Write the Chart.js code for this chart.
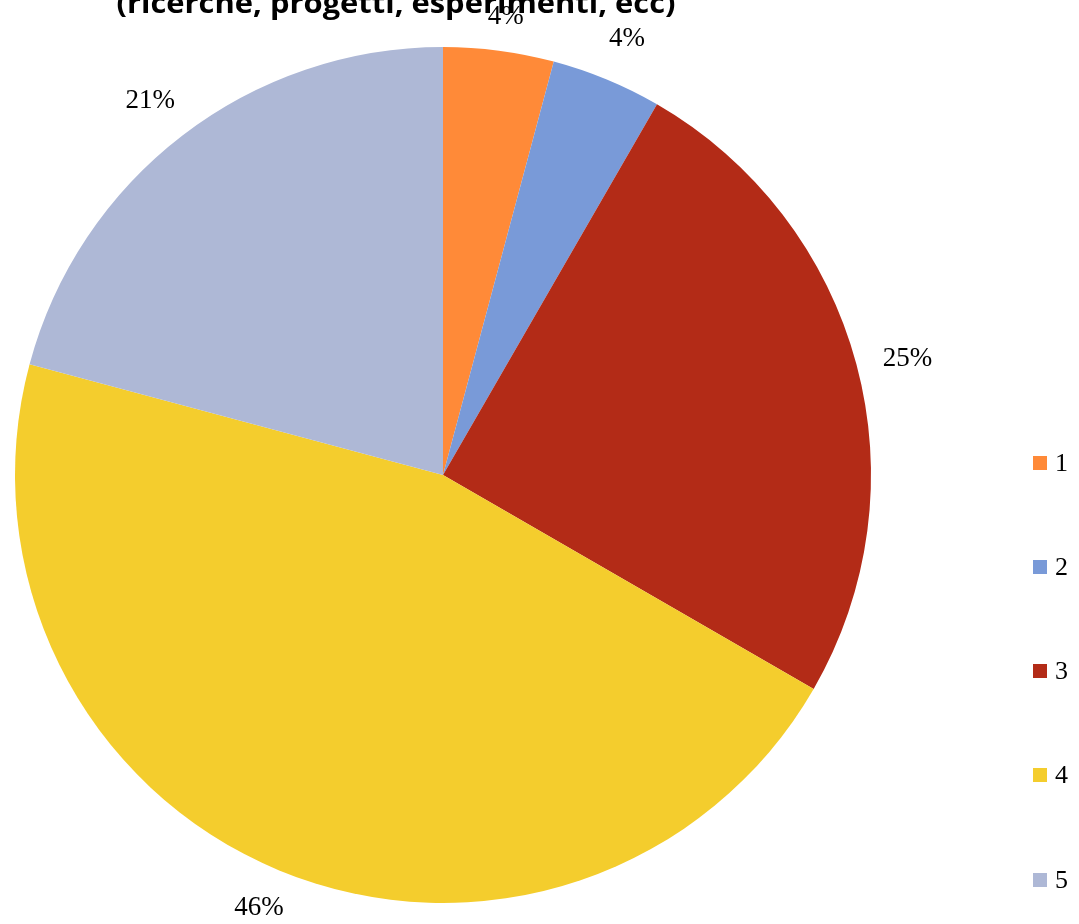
<!DOCTYPE html>
<html>
<head>
<meta charset="utf-8">
<script src="https://cdn.jsdelivr.net/npm/chart.js@4.4.0/dist/chart.umd.min.js"></script>
<style>
  body { margin: 0; background: #fff; overflow: hidden; }
  #wrap { position: relative; width: 1079px; height: 924px; }
  #legend { position: absolute; left: 1033px; top: 0; font-family: "Liberation Serif", serif; font-size: 26px; color: #000; }
  .item { position: absolute; left: 0; white-space: nowrap; display: flex; align-items: center; }
  .box { width: 14px; height: 14px; display: inline-block; margin-right: 8px; }
</style>
</head>
<body>
<div id="wrap">
  <canvas id="pie"></canvas>
  <div id="legend"></div>
</div>
<script>
// chart data
const labels = ['1', '2', '3', '4', '5'];
const counts = [1, 1, 6, 11, 5];
const percentLabels = ['4%', '4%', '25%', '46%', '21%'];
const colors = ['#FF8A38', '#799AD8', '#B32B17', '#F4CD2D', '#AEB8D6'];
const titleText = '(ricerche, progetti, esperimenti, ecc)';

// title line (the upper part is cut off in the original)
const titlePlugin = {
    id: 'cutTitle',
    afterDatasetsDraw(chart) {
        const ctx = chart.ctx;
        ctx.save();
        ctx.font = 'bold 29px "Open Sans", sans-serif';
        ctx.fillStyle = '#000';
        ctx.textAlign = 'center';
        ctx.textBaseline = 'alphabetic';
        const w = ctx.measureText(titleText).width;
        const target = 559;
        ctx.translate(396, 13);
        ctx.scale(target / w, 1);
        ctx.fillText(titleText, 0, 0);
        ctx.restore();
    }
};

// percentage labels outside the slices, kept inside the canvas
const outsideLabels = {
    id: 'outsideLabels',
    afterDatasetsDraw(chart) {
        const ctx = chart.ctx;
        const meta = chart.getDatasetMeta(0);
        ctx.save();
        ctx.font = '27px "Liberation Serif", serif';
        ctx.fillStyle = '#000';
        ctx.textAlign = 'center';
        ctx.textBaseline = 'middle';
        meta.data.forEach((arc, i) => {
            const mid = (arc.startAngle + arc.endAngle) / 2;
            const r = arc.outerRadius + 53;
            let x = arc.x + Math.cos(mid) * r;
            let y = arc.y + Math.sin(mid) * r + 8;
            y = Math.min(Math.max(y, 17), chart.height - 16);
            ctx.fillText(percentLabels[i], x, y);
        });
        ctx.restore();
    }
};

new Chart(document.getElementById('pie'), {
    type: 'pie',
    data: {
        labels: labels,
        datasets: [{
            data: counts,
            backgroundColor: colors,
            borderWidth: 0
        }]
    },
    options: {
        responsive: true,
        maintainAspectRatio: false,
        animation: false,
        layout: { padding: { top: 47, bottom: 21, left: 15, right: 208 } },
        plugins: {
            legend: { display: false },
            tooltip: { enabled: false },
            title: { display: false }
        }
    },
    plugins: [titlePlugin, outsideLabels]
});

// legend on the right
const legendCenters = [463, 567, 671, 775, 880];
const legend = document.getElementById('legend');
labels.forEach((lab, i) => {
    const item = document.createElement('div');
    item.className = 'item';
    item.style.top = (legendCenters[i] - 15) + 'px';
    item.style.height = '30px';
    item.innerHTML = '<span class="box" style="background:' + colors[i] + '"></span><span>' + lab + '</span>';
    legend.appendChild(item);
});
</script>
</body>
</html>
